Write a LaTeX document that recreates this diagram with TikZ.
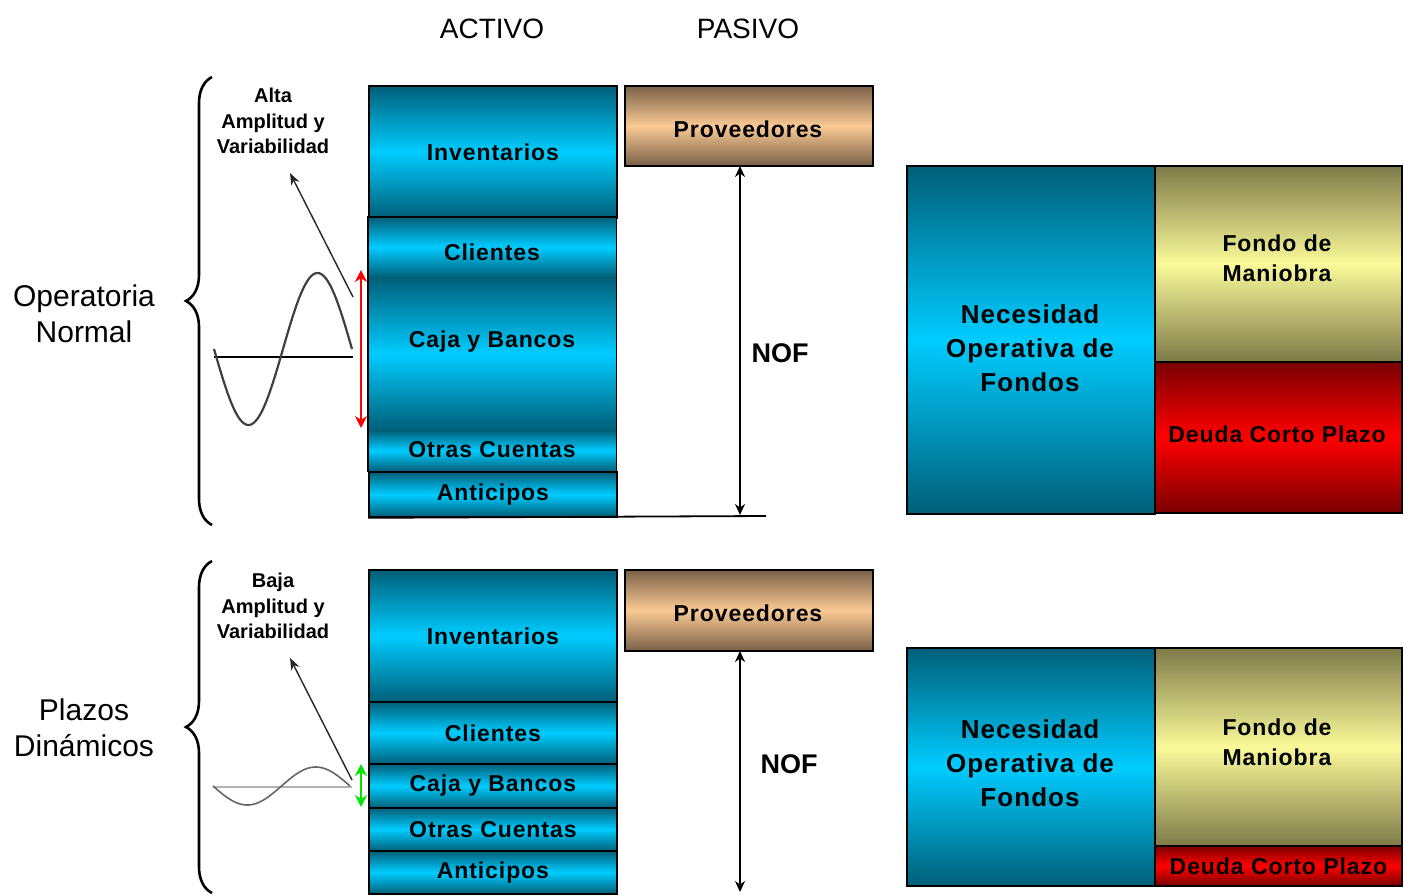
\documentclass[tikz,border=0pt]{standalone}
\usepackage{fontspec}
\setmainfont{Liberation Sans}
\newfontfamily\boxfont[LetterSpace=4]{Liberation Sans}
\usetikzlibrary{arrows.meta,decorations.pathreplacing,shadings}
\definecolor{tdark}{HTML}{005F78}
\definecolor{tlight}{HTML}{00CCFF}
\definecolor{pdark}{HTML}{7A6048}
\definecolor{plight}{HTML}{FACA94}
\definecolor{fdark}{HTML}{7E7A48}
\definecolor{flight}{HTML}{FAFA9A}
\definecolor{ddark}{HTML}{7A0000}
\definecolor{dlight}{HTML}{FF0000}
\tikzset{
  blk/.style={draw=black, line width=1.8pt, inner sep=0pt, anchor=north west, align=center,
    font=\boxfont\bfseries\fontsize{23}{27}\selectfont},
  tealbox/.style={blk, top color=tdark, bottom color=tdark, middle color=tlight},
  band/.style={inner sep=0pt, anchor=north west, align=center, top color=tdark, bottom color=tdark, middle color=tlight},
  provbox/.style={blk, top color=pdark, bottom color=pdark, middle color=plight},
  fondobox/.style={blk, top color=fdark, bottom color=fdark, middle color=flight},
  deudabox/.style={blk, top color=ddark, bottom color=ddark, middle color=dlight},
  lbl/.style={inner sep=0pt, align=center, font=\boxfont\bfseries\fontsize{23}{27}\selectfont},
  biglbl/.style={inner sep=0pt, align=center, font=\boxfont\bfseries\fontsize{26}{34}\selectfont},
  title/.style={inner sep=0pt, font=\fontsize{28}{30}\selectfont},
  side/.style={inner sep=0pt, align=center, font=\fontsize{30}{36}\selectfont},
  small/.style={inner sep=0pt, align=center, font=\bfseries\fontsize{20}{25.5}\selectfont},
  nofl/.style={inner sep=0pt, font=\bfseries\fontsize{27}{30}\selectfont},
  brc/.style={decorate, decoration={brace, amplitude=26pt, aspect=0.5}, line width=2.6pt},
  ptr/.style={-{Stealth[length=12pt,width=9pt]}, line width=1.4pt, draw=black!85},
  nofarrow/.style={{Stealth[length=11pt,width=10pt]}-{Stealth[length=11pt,width=10pt]}, line width=2.4pt},
  colarrow/.style={{Stealth[length=12pt,width=12pt]}-{Stealth[length=12pt,width=12pt]}, line width=2.6pt},
}
\begin{document}
\begin{tikzpicture}[x=1pt,y=-1pt]
\useasboundingbox (0,0) rectangle (1404,894);

% titles
\node[title] (activo) at (492,29) {ACTIVO};
\node[title] (pasivo) at (748,29) {PASIVO};

% side labels
\node[side] (opnorm) at (84,314) {Operatoria\\Normal};
\node[side] (plazos) at (84,728) {Plazos\\Dinámicos};

% braces
\coordinate (b1b) at (212,525);
\coordinate (b1t) at (212,77);
\draw[brc] (b1b) -- (b1t);
\coordinate (b2b) at (212,893);
\coordinate (b2t) at (212,561);
\draw[brc] (b2b) -- (b2t);

% small labels
\node[small] (alta) at (273,121) {Alta\\Amplitud y\\Variabilidad};
\node[small] (baja) at (273,606) {Baja\\Amplitud y\\Variabilidad};

% top wave
\coordinate (w1l) at (214,357);
\coordinate (w1r) at (353,357);
\draw[line width=1.6pt] (w1l) -- (w1r);
\draw[line width=2.2pt, black!75] plot[domain=0:138, samples=90, variable=\t] ({214+\t},{349+76*sin(2.6087*\t)});
\coordinate (p1a) at (353,297);
\coordinate (p1b) at (290,173);
\draw[ptr] (p1a) -- (p1b);
\coordinate (r1t) at (361,270);
\coordinate (r1b) at (361,428);
\draw[colarrow, red] (r1t) -- (r1b);

% bottom wave
\coordinate (w2l) at (213,787);
\coordinate (w2r) at (352,787);
\draw[line width=1.6pt, black!30] (w2l) -- (w2r);
\draw[line width=1.6pt, black!60] plot[domain=0:137, samples=90, variable=\t] ({213+\t},{786+19*sin(2.6277*\t)});
\coordinate (p2a) at (352,780);
\coordinate (p2b) at (290,658);
\draw[ptr] (p2a) -- (p2b);
\coordinate (g2t) at (361,764);
\coordinate (g2b) at (361,807);
\draw[colarrow, green!90!black] (g2t) -- (g2b);

% ===== top section =====
\node[tealbox, minimum width=248pt, minimum height=132pt] (inv1) at (368,85) {Inventarios};
\node[band, minimum width=248pt, minimum height=60pt] (cli1) at (368,217) {};
\node[band, minimum width=248pt, minimum height=153pt] (caja1) at (368,277) {};
\node[band, minimum width=248pt, minimum height=41pt] (otr1) at (368,430) {};
\draw[line width=1.8pt] (cli1.north west) rectangle (otr1.south east);
\node[lbl] (cli1t) at (492,252) {Clientes};
\node[lbl] (caja1t) at (492,342) {Caja y Bancos};
\node[lbl] (otr1t) at (492,450) {Otras Cuentas};
\node[tealbox, minimum width=248pt, minimum height=45pt] (ant1) at (368,471) {Anticipos};
\coordinate (base1) at (766,516);
\draw[line width=1.8pt] (ant1.south west) -- (base1);

\node[provbox, minimum width=248pt, minimum height=80pt] (prov1) at (624,85) {};
\node[lbl] (prov1t) at (748,129) {Proveedores};
\coordinate (n1t) at (740,166);
\coordinate (n1b) at (740,515);
\draw[nofarrow] (n1t) -- (n1b);
\node[nofl] (nof1) at (780,353) {NOF};

\node[tealbox, minimum width=248pt, minimum height=348pt] (nec1) at (906,165) {};
\node[biglbl] (nec1t) at (1030,348) {Necesidad\\Operativa de\\Fondos};
\node[fondobox, minimum width=247pt, minimum height=196pt] (fon1) at (1154,165) {};
\node[lbl, font=\boxfont\bfseries\fontsize{23}{30}\selectfont] (fon1t) at (1277,258) {Fondo de\\Maniobra};
\node[deudabox, minimum width=247pt, minimum height=151pt] (deu1) at (1154,361) {};
\node[lbl] (deu1t) at (1277,434) {Deuda Corto Plazo};

% ===== bottom section =====
\node[tealbox, minimum width=248pt, minimum height=132pt] (inv2) at (368,569) {Inventarios};
\node[tealbox, minimum width=248pt, minimum height=62pt] (cli2) at (368,701) {Clientes};
\node[tealbox, minimum width=248pt, minimum height=44pt] (caja2) at (368,763) {Caja y Bancos};
\node[tealbox, minimum width=248pt, minimum height=43pt] (otr2) at (368,807) {Otras Cuentas};
\node[tealbox, minimum width=248pt, minimum height=43pt] (ant2) at (368,850) {Anticipos};

\node[provbox, minimum width=248pt, minimum height=81pt] (prov2) at (624,569) {};
\node[lbl] (prov2t) at (748,613) {Proveedores};
\coordinate (n2t) at (740,651);
\coordinate (n2b) at (740,892);
\draw[nofarrow] (n2t) -- (n2b);
\node[nofl] (nof2) at (789,764) {NOF};

\node[tealbox, minimum width=248pt, minimum height=238pt] (nec2) at (906,647) {};
\node[biglbl] (nec2t) at (1030,763) {Necesidad\\Operativa de\\Fondos};
\node[fondobox, minimum width=247pt, minimum height=198pt] (fon2) at (1154,647) {};
\node[lbl, font=\boxfont\bfseries\fontsize{23}{30}\selectfont] (fon2t) at (1277,742) {Fondo de\\Maniobra};
\node[deudabox, minimum width=247pt, minimum height=40pt] (deu2) at (1154,845) {Deuda Corto Plazo};
\end{tikzpicture}
\end{document}
